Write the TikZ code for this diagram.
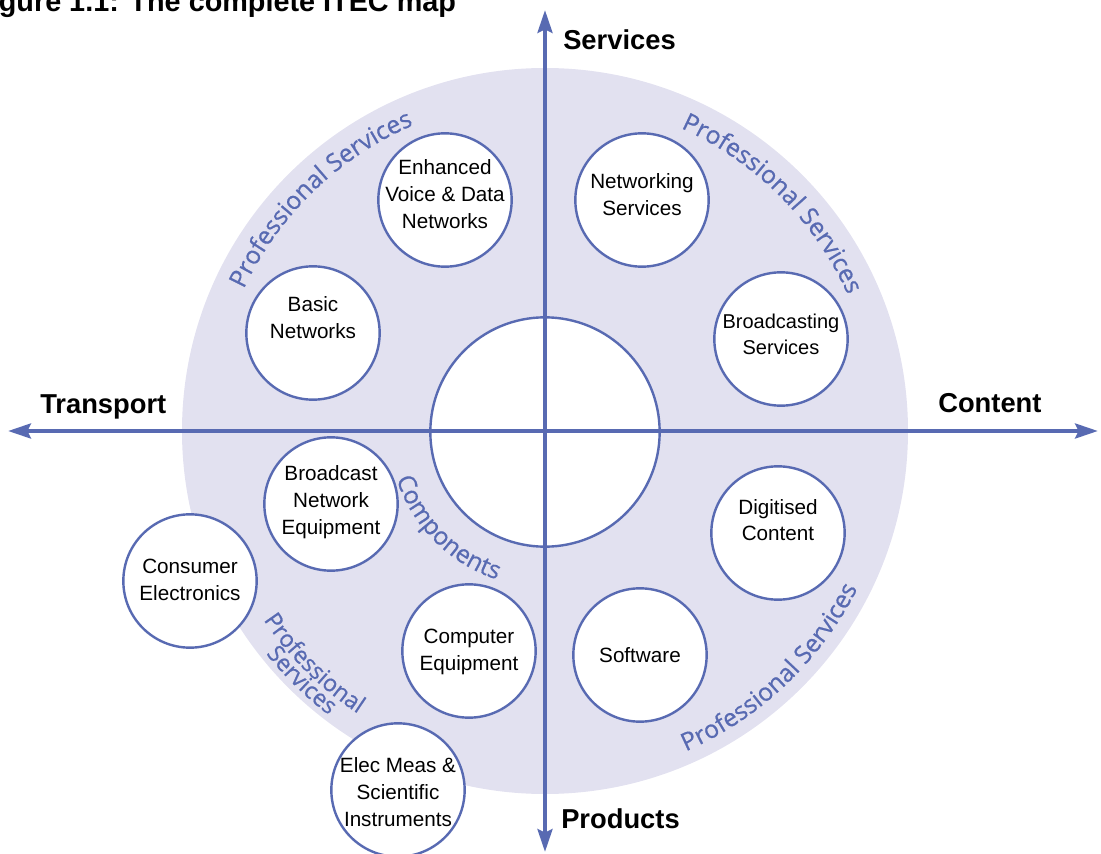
\documentclass[tikz,border=0pt]{standalone}
\usepackage{fontspec}
\setmainfont{Liberation Sans}
\newfontfamily\osans[FakeBold=0.6]{Open Sans}
\usetikzlibrary{arrows.meta,decorations.text}
\definecolor{bl}{RGB}{88,106,178}
\definecolor{lav}{RGB}{226,225,240}
\newcommand{\bfn}{\osans\fontsize{18.5}{22}\selectfont}
\newcommand{\bfs}{\osans\fontsize{17.5}{21}\selectfont}
\begin{document}
\begin{tikzpicture}[x=0.75pt,y=0.75pt,
  circ/.style={circle,draw=bl,line width=1.8pt,fill=white,minimum size=100pt,inner sep=0pt},
  txt/.style={align=center,font=\fontsize{15.5}{20}\selectfont,inner sep=0pt},
  axlbl/.style={font=\fontsize{20.5}{24}\selectfont\bfseries,inner sep=0pt,anchor=base west},
  axis/.style={draw=bl,line width=3.4pt,{Stealth[length=17pt,width=11pt,inset=2.5pt]}-{Stealth[length=17pt,width=11pt,inset=2.5pt]}},
  arclbl/.style={decorate,decoration={text along path,text align=center,text color=bl}}
]
\useasboundingbox (-545,-423) rectangle (556,431);
\fill[lav] (0,0) circle[radius=363];

\node[circle,draw=bl,line width=1.8pt,fill=white,minimum size=172pt,inner sep=0pt] (core) at (0,-1) {};

% small circles
\node[circ] (c1) at (-100,231) {};
\node[circ] (c2) at (97,231) {};
\node[circ] (c3) at (-232,98) {};
\node[circ] (c4) at (236,92) {};
\node[circ] (c5) at (-214,-73) {};
\node[circ] (c6) at (233,-102) {};
\node[circ] (c7) at (-355,-150) {};
\node[circ] (c8) at (-76,-220) {};
\node[circ] (c9) at (95,-224) {};
\node[circ] (c10) at (-147,-359) {};

\node[txt] (t1) at (-100,237) {Enhanced\\Voice \& Data\\Networks};
\node[txt] (t2) at (97,236.5) {Networking\\Services};
\node[txt] (t3) at (-232,113.5) {Basic\\Networks};
\node[txt,font=\fontsize{15}{20}\selectfont] (t4) at (236,96.5) {Broadcasting\\Services};
\node[txt] (t5) at (-214,-71) {Broadcast\\Network\\Equipment};
\node[txt] (t6) at (233,-89) {Digitised\\Content};
\node[txt] (t7) at (-355,-149) {Consumer\\Electronics};
\node[txt] (t8) at (-76,-221) {Computer\\Equipment};
\node[txt] (t9) at (95,-224) {Software};
\node[txt] (t10) at (-147,-361) {Elec Meas \&\\Scientific\\Instruments};

% axes
\coordinate (W) at (-537,0);
\coordinate (E) at (553,0);
\coordinate (N) at (0,421);
\coordinate (S) at (0,-421);
\draw[axis] (W) -- (E);
\draw[axis] (S) -- (N);

\node[axlbl] (services) at (18,381) {Services};
\node[axlbl] (transport) at (-505,18) {Transport};
\node[axlbl] (content) at (393,19) {Content};
\node[axlbl] (products) at (16,-397) {Products};
\node[axlbl,font=\fontsize{21.6}{24}\selectfont\bfseries] (title) at (-572,419.5) {Figure 1.1: The complete ITEC map};

% curved labels
\path[arclbl,decoration={text={|\bfn|Professional Services}}]
  (180:333) arc[start angle=180,end angle=88,radius=333];
\path[arclbl,decoration={text={|\bfn|Professional Services}}]
  (90.5:332) arc[start angle=90.5,end angle=-0.5,radius=332];
\path[arclbl,decoration={text={|\bfn|Professional Services}}]
  (-97:350) arc[start angle=-97,end angle=4,radius=350];
\path[arclbl,decoration={text={|\bfs|Professional}}]
  (175.2:339) arc[start angle=175.2,end angle=275.2,radius=339];
\path[arclbl,decoration={text={|\bfs|Services}}]
  (185.7:357) arc[start angle=185.7,end angle=265.7,radius=357];
\path[arclbl,decoration={text={|\bfn|Components}}]
  (166:156) arc[start angle=166,end angle=284,radius=156];
\end{tikzpicture}
\end{document}
